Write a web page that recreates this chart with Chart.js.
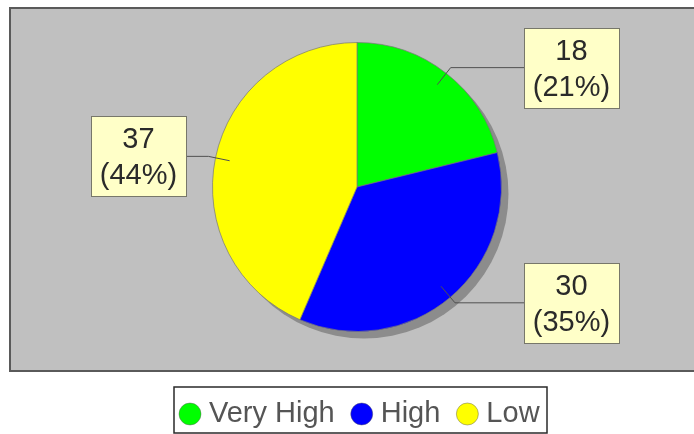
<!DOCTYPE html>
<html>
<head>
<meta charset="utf-8">
<title>Pie</title>
<script src="https://cdn.jsdelivr.net/npm/chart.js@4.4.1/dist/chart.umd.min.js"></script>
<style>
  html, body { margin: 0; padding: 0; background: #fff; }
  #wrap { width: 694px; height: 434px; }
</style>
</head>
<body>
<div id="wrap"><canvas id="chart" width="694" height="434"></canvas></div>
<script>
// ---------- Data ----------
const categories = ['Very High', 'High', 'Low'];
const counts = [18, 30, 37];
const sliceColors = ['#00ff00', '#0000ff', '#ffff00'];

const FONT = '"Liberation Sans", Arial, sans-serif';
const FONT_PX = 29;

// ---------- Plugins ----------
// gray plot panel with dark frame (runs off the right edge)
const plotPanel = {
  id: 'plotPanel',
  beforeDraw(chart){
    const ctx = chart.ctx;
    ctx.save();
    ctx.fillStyle = '#c0c0c0';
    ctx.fillRect(10, 8, 700, 363);
    ctx.strokeStyle = '#5a5a5a';
    ctx.lineWidth = 2;
    ctx.strokeRect(10, 8, 700, 363);
    ctx.restore();
  }
};

// drop shadow under the pie
const pieShadow = {
  id: 'pieShadow',
  beforeDatasetsDraw(chart){
    const arc = chart.getDatasetMeta(0).data[0];
    if(!arc) return;
    const { x, y, outerRadius } = arc.getProps(['x', 'y', 'outerRadius'], true);
    const ctx = chart.ctx;
    ctx.save();
    ctx.fillStyle = '#8c8c8c';
    ctx.beginPath();
    ctx.arc(x + 7, y + 7, outerRadius, 0, Math.PI * 2);
    ctx.fill();
    ctx.restore();
  }
};

// value / percent boxes with leader lines
const sliceLabels = {
  id: 'sliceLabels',
  afterDatasetsDraw(chart){
    const ctx = chart.ctx;
    const values = chart.data.datasets[0].data;
    const total = values.reduce((a, b) => a + b, 0);
    ctx.save();
    ctx.font = `${FONT_PX}px ${FONT}`;
    chart.getDatasetMeta(0).data.forEach((arc, i) => {
      const p = arc.getProps(['x', 'y', 'startAngle', 'endAngle', 'outerRadius'], true);
      const mid = (p.startAngle + p.endAngle) / 2;
      const R = p.outerRadius;
      const cos = Math.cos(mid), sin = Math.sin(mid);
      const inX = p.x + cos * R * 0.9, inY = p.y + sin * R * 0.9;
      const elX = p.x + cos * R * 1.05, elY = p.y + sin * R * 1.05;
      const right = cos > 0;

      const lines = [String(values[i]), `(${Math.round(values[i] / total * 100)}%)`];
      const w = Math.round(Math.max(...lines.map(t => ctx.measureText(t).width)) + 18);
      const h = 80;
      const bx = Math.round(right ? p.x + R * 1.155 : p.x - R * 1.18 - w);
      const by = Math.round(elY - h / 2);

      ctx.strokeStyle = '#505050';
      ctx.lineWidth = 1;
      ctx.beginPath();
      ctx.moveTo(inX, inY);
      ctx.lineTo(elX, elY);
      ctx.lineTo(right ? bx : bx + w, elY);
      ctx.stroke();

      ctx.fillStyle = '#ffffc8';
      ctx.fillRect(bx, by, w, h);
      ctx.strokeStyle = '#77776a';
      ctx.strokeRect(bx + 0.5, by + 0.5, w, h);

      ctx.fillStyle = '#2a2a2a';
      ctx.textAlign = 'center';
      ctx.textBaseline = 'middle';
      ctx.fillText(lines[0], bx + w / 2, by + 24);
      ctx.fillText(lines[1], bx + w / 2, by + 60);
    });
    ctx.restore();
  }
};

// framed legend row under the plot
const boxLegend = {
  id: 'boxLegend',
  afterDraw(chart){
    const ctx = chart.ctx;
    const ds = chart.data.datasets[0];
    const dot = 22, gapText = 8, gapItem = 16, padL = 5, padR = 7;
    ctx.save();
    ctx.font = `${FONT_PX}px ${FONT}`;
    const widths = chart.data.labels.map(l => ctx.measureText(l).width);
    let total = padL + padR;
    widths.forEach((tw, i) => { total += dot + gapText + tw + (i ? gapItem : 0); });
    total = Math.round(total);
    const left = Math.round(360 - total / 2);
    const top = 387, h = 46, cy = top + 27;

    ctx.fillStyle = '#ffffff';
    ctx.fillRect(left, top, total, h);
    ctx.strokeStyle = '#2a2a2a';
    ctx.lineWidth = 1.5;
    ctx.strokeRect(left, top, total, h);

    let x = left + padL;
    chart.data.labels.forEach((label, i) => {
      if(i) x += gapItem;
      ctx.fillStyle = ds.backgroundColor[i];
      ctx.beginPath();
      ctx.arc(x + dot / 2, cy, dot / 2, 0, Math.PI * 2);
      ctx.fill();
      ctx.strokeStyle = 'rgba(90,90,90,0.45)';
      ctx.lineWidth = 1;
      ctx.stroke();
      x += dot + gapText;
      ctx.fillStyle = '#555555';
      ctx.textAlign = 'left';
      ctx.textBaseline = 'middle';
      ctx.fillText(label, x, cy);
      x += widths[i];
    });
    ctx.restore();
  }
};

// ---------- Chart ----------
new Chart(document.getElementById('chart').getContext('2d'), {
  type: 'pie',
  data: {
    labels: categories,
    datasets: [{
      data: counts,
      backgroundColor: sliceColors,
      borderColor: 'rgba(120,120,120,0.7)',
      borderWidth: 1
    }]
  },
  options: {
    responsive: false,
    devicePixelRatio: 1,
    animation: false,
    events: [],
    layout: { padding: { left: 212, right: 192, top: 42, bottom: 102 } },
    plugins: {
      legend: { display: false },
      tooltip: { enabled: false }
    }
  },
  plugins: [plotPanel, pieShadow, sliceLabels, boxLegend]
});
</script>
</body>
</html>
